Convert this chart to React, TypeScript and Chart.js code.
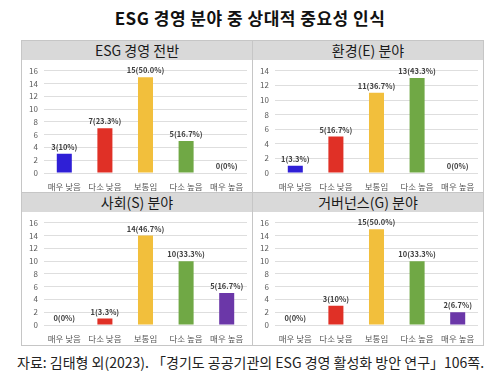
import React, { useEffect, useRef } from "react";
import { Chart, registerables } from "chart.js";

Chart.register(...registerables);

const mainTitle = "ESG 경영 분야 중 상대적 중요성 인식";
const sourceText = "자료: 김태형 외(2023). 「경기도 공공기관의 ESG 경영 활성화 방안 연구」106쪽.";
const categories = ["매우 낮음", "다소 낮음", "보통임", "다소 높음", "매우 높음"];
const barColors = ["#2f1fd6", "#e03026", "#f2bf3c", "#70a845", "#6b37a8"];

const panelTitles = ["ESG 경영 전반", "환경(E) 분야", "사회(S) 분야", "거버넌스(G) 분야"];
const overallValues = [3, 7, 15, 5, 0];
const overallPct = ["10%", "23.3%", "50.0%", "16.7%", "0%"];
const envValues = [1, 5, 11, 13, 0];
const envPct = ["3.3%", "16.7%", "36.7%", "43.3%", "0%"];
const socValues = [0, 1, 14, 10, 5];
const socPct = ["0%", "3.3%", "46.7%", "33.3%", "16.7%"];
const govValues = [0, 3, 15, 10, 2];
const govPct = ["0%", "10%", "50.0%", "33.3%", "6.7%"];
const yMaxes = [16, 14, 16, 16];

const FONT = "'Noto Sans CJK KR', 'Noto Sans', sans-serif";

const labelPlugin = {
  id: "barLabels",
  afterDatasetsDraw(chart: any) {
    const ctx = chart.ctx;
    const meta = chart.getDatasetMeta(0);
    const pcts: string[] = chart.options.plugins.barLabels.pcts;
    const vals: number[] = chart.data.datasets[0].data;
    const xScale = chart.scales.x;
    const bottom = chart.chartArea.bottom;
    ctx.save();
    ctx.font = `bold 7.5px ${FONT}`;
    ctx.fillStyle = "#404040";
    ctx.textAlign = "center";
    ctx.textBaseline = "bottom";
    meta.data.forEach((el: any, i: number) => {
      ctx.fillText(`${vals[i]}(${pcts[i]})`, el.x, el.y - 3);
    });
    ctx.font = `8.5px ${FONT}`;
    ctx.fillStyle = "#595959";
    ctx.textBaseline = "middle";
    (chart.data.labels as string[]).forEach((lab: string, i: number) => {
      ctx.fillText(lab, xScale.getPixelForValue(i), bottom + 13.5);
    });
    ctx.restore();
  },
};

function Panel(props: { left: number; top: number; width: number; height: number; title: string; values: number[]; pcts: string[]; yMax: number }) {
  const ref = useRef<HTMLCanvasElement>(null);
  const canvasH = props.height - 2 - 19;
  const canvasW = props.width - 2;
  useEffect(() => {
    if (!ref.current) return;
    const chart = new Chart(ref.current, {
      type: "bar",
      data: {
        labels: categories,
        datasets: [
          {
            data: props.values,
            backgroundColor: barColors,
            barPercentage: 0.37,
            categoryPercentage: 1,
          },
        ],
      },
      options: {
        responsive: false,
        animation: false,
        devicePixelRatio: 1,
        layout: { padding: { top: 9, right: 5, left: 0, bottom: 0 } },
        plugins: {
          legend: { display: false },
          tooltip: { enabled: false },
          barLabels: { pcts: props.pcts },
        } as any,
        scales: {
          x: {
            grid: { display: false },
            border: { display: false },
            ticks: { display: false },
            afterFit: (s: any) => {
              s.height = canvasH - 9 - 104;
            },
          },
          y: {
            min: 0,
            max: props.yMax,
            ticks: { stepSize: 2, font: { size: 8, family: FONT }, color: "#595959", padding: 6 },
            grid: { color: "#dedede", drawTicks: false },
            border: { display: false },
            afterFit: (s: any) => {
              s.width = 22;
            },
          },
        },
      } as any,
      plugins: [labelPlugin],
    });
    return () => chart.destroy();
  }, []);
  return (
    <div
      style={{
        position: "absolute",
        left: props.left,
        top: props.top,
        width: props.width,
        height: props.height,
        boxSizing: "border-box",
        border: "1px solid #c6c6c6",
        background: "#fff",
        overflow: "hidden",
      }}
    >
      <div
        style={{
          height: 19,
          background: "#d9d9d9",
          textAlign: "center",
          fontSize: 14,
          lineHeight: "19px",
          color: "#1a1a1a",
          fontFamily: FONT,
        }}
      >
        {props.title}
      </div>
      <canvas ref={ref} width={canvasW} height={canvasH} style={{ display: "block", width: canvasW, height: canvasH }} />
    </div>
  );
}

export default function App() {
  return (
    <div style={{ position: "absolute", left: 0, top: 0, width: 500, height: 387, background: "#fff", fontFamily: FONT, overflow: "hidden" }}>
      <div style={{ position: "absolute", top: 6, left: 0, width: 500, textAlign: "center", fontSize: 17, fontWeight: 700, lineHeight: "24px", color: "#111", letterSpacing: 0.5 }}>
        {mainTitle}
      </div>
      <Panel left={21} top={40} width={232} height={153} title={panelTitles[0]} values={overallValues} pcts={overallPct} yMax={yMaxes[0]} />
      <Panel left={252} top={40} width={232} height={153} title={panelTitles[1]} values={envValues} pcts={envPct} yMax={yMaxes[1]} />
      <Panel left={21} top={192} width={232} height={154} title={panelTitles[2]} values={socValues} pcts={socPct} yMax={yMaxes[2]} />
      <Panel left={252} top={192} width={232} height={154} title={panelTitles[3]} values={govValues} pcts={govPct} yMax={yMaxes[3]} />
      <div style={{ position: "absolute", top: 352, left: 17, width: 480, fontSize: 14, lineHeight: "20px", color: "#222", whiteSpace: "nowrap" }}>
        {sourceText}
      </div>
    </div>
  );
}
